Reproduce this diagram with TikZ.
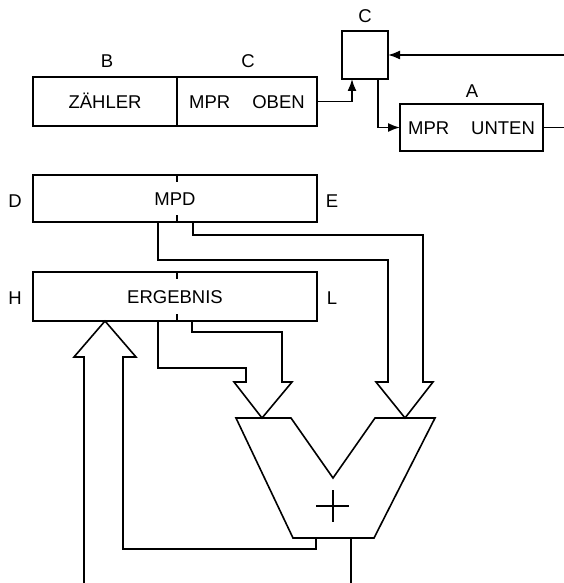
\documentclass[tikz,border=0pt]{standalone}
\usepackage{fontspec}
\setmainfont{Liberation Sans}
\usetikzlibrary{arrows.meta}
\begin{document}
\begin{tikzpicture}[x=1pt,y=-1pt,line width=1.6pt,line join=miter,
  reg/.style={draw, rectangle, inner sep=0pt, outer sep=0pt, text height=13.3pt, text depth=0pt, font=\fontsize{18.5}{20}\selectfont},
  lbl/.style={inner sep=0pt, text height=13.3pt, text depth=0pt, font=\fontsize{18.5}{20}\selectfont},
  arr/.style={-{Latex[length=12pt,width=9pt]}},
  thin/.style={line width=1.1pt}]
\useasboundingbox (0,0) rectangle (564,583);
% registers
\node[reg, minimum width=144pt, minimum height=49pt] (zaehler) at (105,101.5) {ZÄHLER};
\node[reg, minimum width=140pt, minimum height=49pt] (oben) at (247,101.5) {MPR\hspace{22pt}OBEN};
\node[reg, minimum width=46pt, minimum height=48pt] (cbox) at (365,55) {};
\node[reg, minimum width=143pt, minimum height=47pt] (unten) at (471.5,127.5) {MPR\hspace{22pt}UNTEN};
\node[reg, minimum width=284pt, minimum height=47pt] (mpd) at (175,198.5) {MPD};
\node[reg, minimum width=284pt, minimum height=49pt] (erg) at (175,296.5) {ERGEBNIS};
% ticks
\draw ([xshift=2pt]mpd.north) -- ++(0,7);
\draw ([xshift=2pt]mpd.south) -- ++(0,-7);
\draw ([xshift=2pt]erg.north) -- ++(0,7);
\draw ([xshift=2pt]erg.south) -- ++(0,-7);
% labels
\node[lbl] (lB) at (107,61) {B};
\node[lbl] (lC1) at (248,61) {C};
\node[lbl] (lC2) at (365,16) {C};
\node[lbl] (lA) at (472,91) {A};
\node[lbl] (lD) at (15,201) {D};
\node[lbl] (lE) at (332,201) {E};
\node[lbl] (lH) at (15,298) {H};
\node[lbl] (lL) at (332,298) {L};
% top connectors
\coordinate (inR) at (564,55);
\coordinate (outR) at (564,127.5);
\draw[arr] (inR) -- (cbox.east);
\draw[arr] (oben.east) -| ([xshift=-13pt]cbox.south);
\draw[arr] ([xshift=13pt]cbox.south) |- (unten.west);
\draw (unten.east) -- (outR);
% tips
\coordinate (rtip) at (405,418);
\coordinate (ltip) at (262,418);
\coordinate (ftip) at (105,321);
% fat arrow from MPD
\draw ([xshift=-17pt]mpd.south) |- (388,260) -- (388,382) -- (376,382) -- (rtip) -- (433,382) -- (423,382) |- (193,235) -- ([xshift=18pt]mpd.south);
% fat arrow from ERGEBNIS
\draw ([xshift=-17pt]erg.south) |- (246,368) -- (246,382) -- (234,382) -- (ltip) -- (292,382) -- (282,382) |- (192,332) -- ([xshift=17pt]erg.south);
% adder
\draw (236,418) -- (291,418) -- (333,478) -- (375,418) -- (435,418) -- (374,538) -- (293,538) -- cycle;
\coordinate (plus) at (333,506);
\draw[thin] ([xshift=-17pt]plus) -- ([xshift=16pt]plus) ([yshift=16pt]plus) -- ([yshift=-16pt]plus);
% feedback fat arrow
\draw (316,538) -- (316,549) -- (123,549) -- (123,357) -- (136,357) -- (ftip) -- (74,357) -- (84,357) -- (84,583);
\draw (351,538) -- (351,583);
\end{tikzpicture}
\end{document}
